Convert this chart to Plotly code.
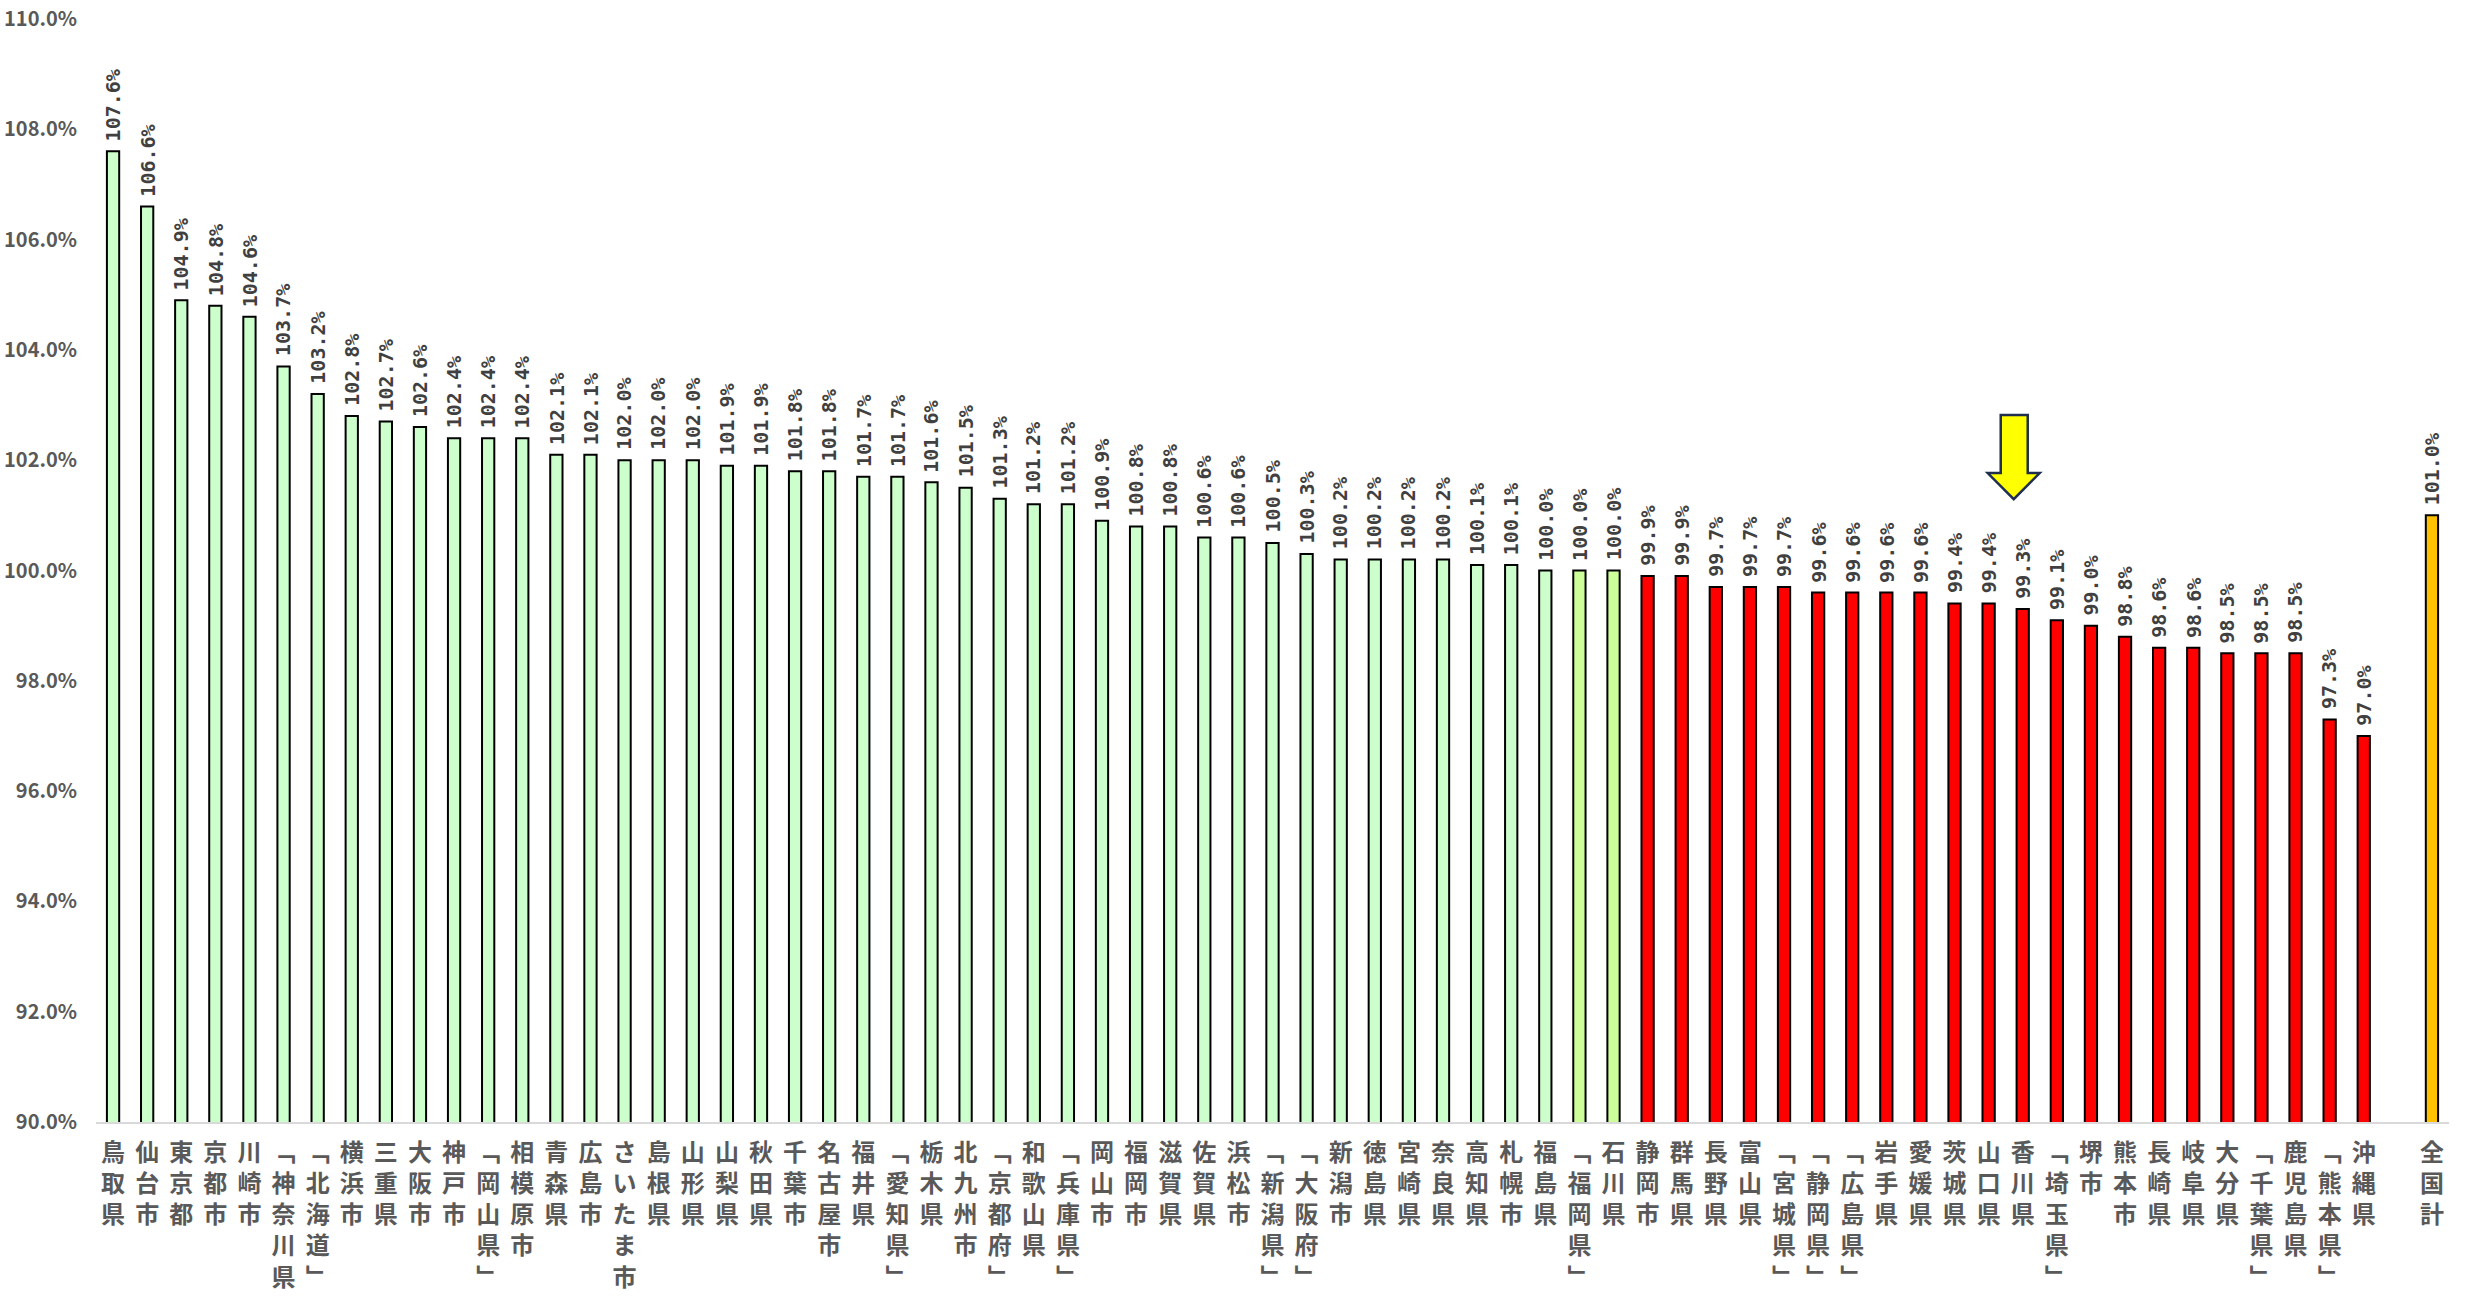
import plotly.graph_objects as go

# Regions ranked by index value, followed by the national total
regions = [
    "鳥取県", "仙台市", "東京都", "京都市", "川崎市", "「神奈川県」", "「北海道」", "横浜市",
    "三重県", "大阪市", "神戸市", "「岡山県」", "相模原市", "青森県", "広島市", "さいたま市",
    "島根県", "山形県", "山梨県", "秋田県", "千葉市", "名古屋市", "福井県", "「愛知県」",
    "栃木県", "北九州市", "「京都府」", "和歌山県", "「兵庫県」", "岡山市", "福岡市", "滋賀県",
    "佐賀県", "浜松市", "「新潟県」", "「大阪府」", "新潟市", "徳島県", "宮崎県", "奈良県",
    "高知県", "札幌市", "福島県", "「福岡県」", "石川県", "静岡市", "群馬県", "長野県",
    "富山県", "「宮城県」", "「静岡県」", "「広島県」", "岩手県", "愛媛県", "茨城県", "山口県",
    "香川県", "「埼玉県」", "堺市", "熊本市", "長崎県", "岐阜県", "大分県", "「千葉県」",
    "鹿児島県", "「熊本県」", "沖縄県",
]
region_values = [
    107.6, 106.6, 104.9, 104.8, 104.6, 103.7, 103.2, 102.8,
    102.7, 102.6, 102.4, 102.4, 102.4, 102.1, 102.1, 102.0,
    102.0, 102.0, 101.9, 101.9, 101.8, 101.8, 101.7, 101.7,
    101.6, 101.5, 101.3, 101.2, 101.2, 100.9, 100.8, 100.8,
    100.6, 100.6, 100.5, 100.3, 100.2, 100.2, 100.2, 100.2,
    100.1, 100.1, 100.0, 100.0, 100.0, 99.9, 99.9, 99.7,
    99.7, 99.7, 99.6, 99.6, 99.6, 99.6, 99.4, 99.4,
    99.3, 99.1, 99.0, 98.8, 98.6, 98.6, 98.5, 98.5,
    98.5, 97.3, 97.0,
]
total_name = "全国計"
total_value = 101.0

near_par = ["「福岡県」", "石川県"]   # drawn in yellow-green
marked_region = "香川県"              # pointed at by the arrow

y_ticks = [90, 92, 94, 96, 98, 100, 102, 104, 106, 108, 110]

# Colours
GREEN = "#CCFFCC"
YELLOW_GREEN = "#CCFF99"
RED = "#FF0000"
ORANGE = "#FFC000"
TEXT_GREY = "#595959"
LABEL_GREY = "#404040"

GAP = "\u3000"  # empty slot between the regions and the national total
categories = regions + [GAP, total_name]
values = region_values + [None, total_value]


def bar_colour(name, v):
    if name == total_name:
        return ORANGE
    if name in near_par:
        return YELLOW_GREEN
    return GREEN if v >= 100 else RED


colours = [bar_colour(n, v) if v is not None else GREEN for n, v in zip(categories, values)]


def vertical(name):
    # stack characters top-to-bottom, using the vertical corner brackets
    name = name.replace("「", "\ufe41").replace("」", "\ufe42")
    return "<br>".join(name)


tick_text = [vertical(n) if n != GAP else "" for n in categories]

fig = go.Figure()
fig.add_trace(go.Bar(
    x=categories,
    y=values,
    marker=dict(color=colours, line=dict(color="#000000", width=2)),
    width=0.36,
    hoverinfo="x+y",
))

# value labels above each bar
for name, v in zip(categories, values):
    if v is None:
        continue
    fig.add_annotation(
        x=name, y=v, xref="x", yref="y",
        text=f"{v:.1f}%", textangle=-90,
        showarrow=False, xanchor="center", yanchor="bottom", yshift=8,
        font=dict(family="DejaVu Sans Mono", size=20, color=LABEL_GREY, weight="bold"),
    )

# downward arrow over the marked region
ai = categories.index(marked_region)
arrow_path = "M -22,136 L -22,194 L 5,194 L 5,136 L 17,136 L -9,110 L -35,136 L -22,136 Z"
fig.add_shape(
    type="path", xref="x", yref="y",
    xsizemode="pixel", ysizemode="pixel",
    xanchor=ai, yanchor=values[ai],
    path=arrow_path,
    fillcolor="#FFFF00", line=dict(color="#1F2D4F", width=2.5),
)

fig.update_layout(
    width=2475, height=1296,
    margin=dict(l=96, r=26, t=19, b=174),
    paper_bgcolor="white", plot_bgcolor="white",
    showlegend=False,
    bargap=0.64,
    xaxis=dict(
        type="category",
        categoryorder="array", categoryarray=categories,
        tickmode="array", tickvals=categories, ticktext=tick_text,
        tickangle=0,
        tickfont=dict(family="Noto Sans CJK JP", size=24, color=TEXT_GREY, weight="bold"),
        showline=True, linecolor="#D9D9D9", linewidth=2,
        showgrid=False, ticks="", automargin=False,
        ticklabelstandoff=8,
    ),
    yaxis=dict(
        range=[90, 110],
        tickmode="array", tickvals=y_ticks,
        ticktext=[f"{t:.1f}%" for t in y_ticks],
        tickfont=dict(family="Noto Sans CJK JP", size=20, color=TEXT_GREY, weight="bold"),
        showgrid=False, zeroline=False, showline=False,
        ticks="", automargin=False, ticklabelstandoff=18,
    ),
)

fig.write_html("out.html")
